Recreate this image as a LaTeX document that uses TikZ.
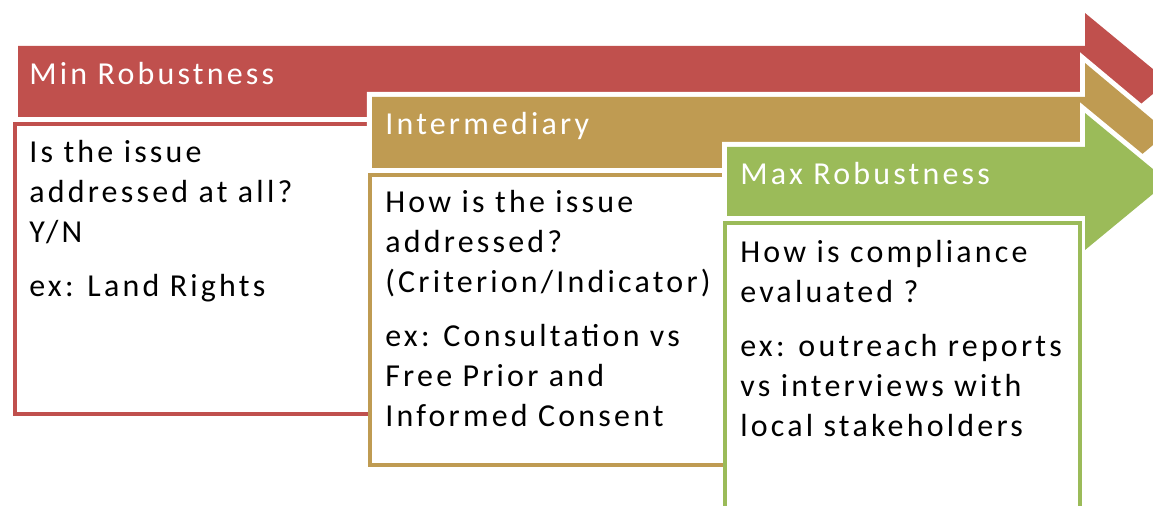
\documentclass[tikz,border=0pt]{standalone}
\usepackage{fontspec}
\setmainfont{Carlito}[LetterSpace=10]
\usetikzlibrary{positioning}

\definecolor{minred}{HTML}{C0504D}
\definecolor{midtan}{HTML}{BF9B52}
\definecolor{maxgreen}{HTML}{9BBB59}

\tikzset{
  band/.style={fill=#1, preaction={draw=white, line width=5.7pt}},
  frame/.style={draw=#1, line width=2.3pt},
  title/.style={anchor=base west, inner sep=0pt, text=white,
    font=\fontsize{18.2pt}{22.8pt}\selectfont},
  body/.style={anchor=base west, inner sep=0pt, align=left,
    font=\fontsize{18.2pt}{22.8pt}\selectfont}
}

\begin{document}
\begin{tikzpicture}[x=0.02cm,y=-0.02cm]
\useasboundingbox (0,0) rectangle (1153,506);
\clip (0,0) rectangle (1153,506);

% min robustness
\path[band=minred] (18,46)--(1085,46)--(1085,13)--(1168,81.5)--(1085,150)--(1085,117)--(18,117)--cycle;
\node[title] (mintitle) at (29,85){Min Robustness};
\draw[frame=minred] (372,124)--(15,124)--(15,414)--(372,414);
% body nodes sit on the baseline of their last line
\node[body] (mintext) at (29,297){Is the issue\\addressed at all?\\Y/N\\[8pt]ex: Land Rights};

% intermediary
\path[band=midtan] (372,97)--(1085,97)--(1085,63)--(1168,132.5)--(1085,202)--(1085,168)--(372,168)--cycle;
\node[title] (midtitle) at (385,135){Intermediary};
\draw[frame=midtan] (725,175)--(370,175)--(370,465)--(725,465);
\node[body] (midtext) at (385,427){How is the issue\\addressed?\\(Criterion/Indicator)\\[8pt]ex: Consultation vs\\Free Prior and\\Informed Consent};

% max robustness
\path[band=maxgreen] (727,147)--(1085,147)--(1085,113)--(1168,181.5)--(1085,250)--(1085,216)--(727,216)--cycle;
\node[title] (maxtitle) at (740,185){Max Robustness};
\draw[frame=maxgreen] (725,520)--(725,223)--(1080,223)--(1080,520);
\node[body] (maxtext) at (740,437){How is compliance\\evaluated ?\\[8pt]ex: outreach reports\\vs interviews with\\local stakeholders};
\end{tikzpicture}
\end{document}
